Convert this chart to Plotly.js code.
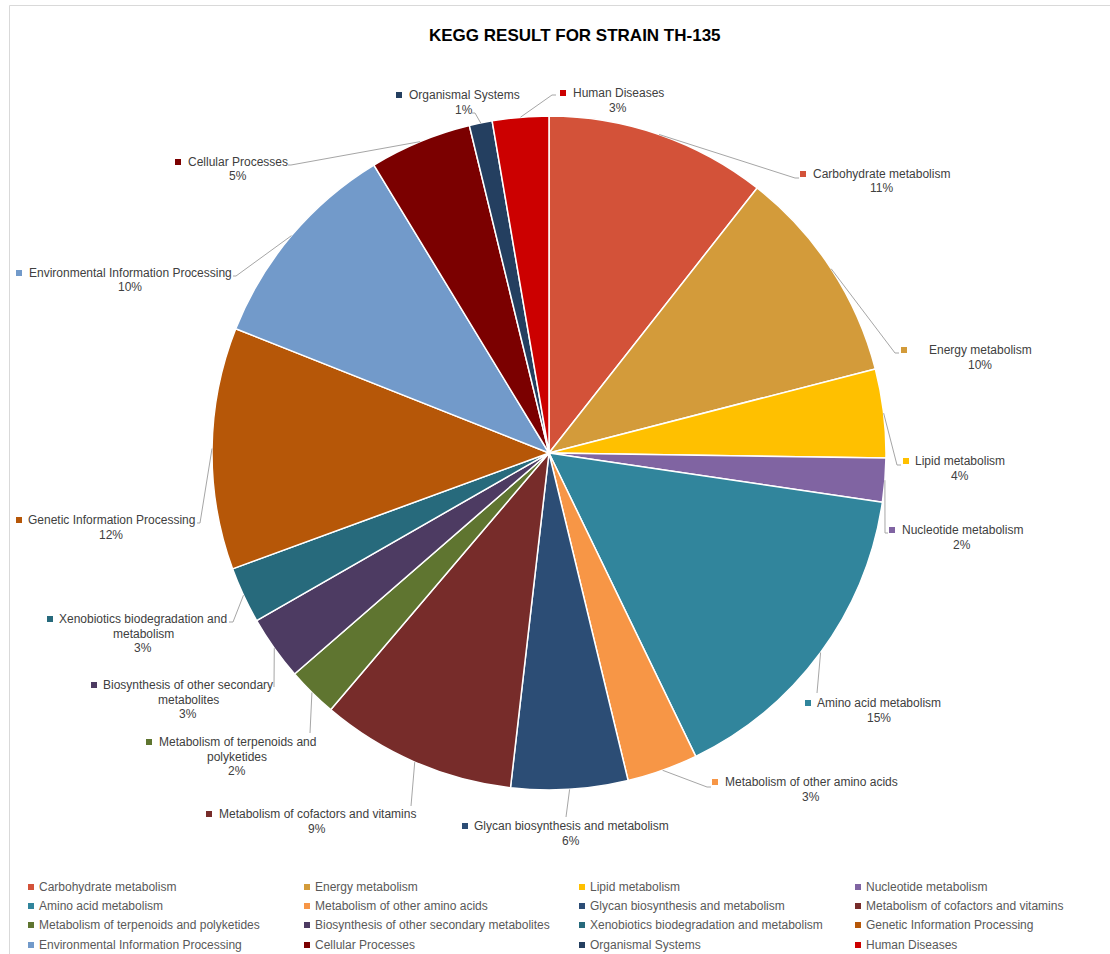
<!DOCTYPE html>
<html>
<head>
<meta charset="utf-8">
<script src="https://cdn.plot.ly/plotly-3.0.1.min.js"></script>
<style>html,body{margin:0;padding:0;background:#fff;}#chart{width:1110px;height:954px;}</style>
</head>
<body>
<div id="chart"></div>
<script>
// ---- data ----
const categories = [
  "Carbohydrate metabolism",
  "Energy metabolism",
  "Lipid metabolism",
  "Nucleotide metabolism",
  "Amino acid metabolism",
  "Metabolism of other amino acids",
  "Glycan biosynthesis and metabolism",
  "Metabolism of cofactors and vitamins",
  "Metabolism of terpenoids and polyketides",
  "Biosynthesis of other secondary metabolites",
  "Xenobiotics biodegradation and metabolism",
  "Genetic Information Processing",
  "Environmental Information Processing",
  "Cellular Processes",
  "Organismal Systems",
  "Human Diseases"
];
const shares = [10.6, 10.4, 4.25, 2.1, 15.5, 3.4, 5.6, 9.4, 2.4, 3.1, 2.7, 11.6, 10.3, 4.9, 1.1, 2.7];
const colors = [
  "#D35239", "#D39B3A", "#FFC000", "#8064A2", "#31859C", "#F79646", "#2C4D75", "#772C2A",
  "#5F7530", "#4D3B62", "#276A7C", "#B65708", "#729ACA", "#7B0000", "#243F60", "#CC0000"
];
const chartTitle = "KEGG RESULT FOR STRAIN TH-135";

// ---- layout helpers (pixel geometry, not data) ----
const W = 1110, H = 954;
const CX = 549, CY = 453, R = 337;
// [text centre x, first line y, bullet x, leader end x, leader end y, tick, wrap]
const labelLayout = [
  [881, 174, 803, 795, 178, 4, false],
  [980, 350, 904, 895, 353, 4, false],
  [960, 461, 906, 897, 465, 4, false],
  [962, 530, 892, 885, 533, 3, false],
  [879, 703, 808, 817, 693, 0, false],
  [811, 782, 715, 707, 787, 4, false],
  [571, 826, 465, 566, 817, 0, false],
  [317, 814, 209, 411, 806, 0, false],
  [237, 742, 149, 310, 733, 0, true],
  [188, 685, 94, 274, 687, 0, true],
  [143, 619, 50, 233, 622, -4, true],
  [111, 520, 19, 200, 523, -3, false],
  [130, 273, 19, 236, 276, -3, false],
  [238, 162, 178, 291, 165, -3, false],
  [464, 95, 399, 475, 113, -3, false],
  [618, 93, 563, 552, 95, 4, false]
];
const legendColX = [37, 313, 588, 864];
const legendRowY = [887, 906, 925, 945];

const px = x => x / W;
const py = y => 1 - y / H;
const FONT = "Liberation Sans, Arial, sans-serif";
const LINE_STEP = 14.5;

const total = shares.reduce((a, b) => a + b, 0);
const annotations = [];
const shapes = [];

// chart border
shapes.push({type: "rect", xref: "paper", yref: "paper", x0: px(9.5), x1: px(1125), y0: py(960), y1: py(5.5),
  line: {color: "#D9D9D9", width: 1}, fillcolor: "rgba(0,0,0,0)", layer: "below"});

// title
annotations.push({xref: "paper", yref: "paper", x: px(575), y: py(35), xanchor: "center", yanchor: "middle",
  showarrow: false, text: "<b>" + chartTitle + "</b>", font: {family: FONT, size: 17, color: "#000000"}});

// data labels with leader lines
let cum = 0;
shares.forEach((v, i) => {
  const mid = (cum + v / 2) / total * 2 * Math.PI;
  cum += v;
  const [tx, ty, bx, ex, ey, tick, wrap] = labelLayout[i];
  const name = categories[i];
  let lines;
  if (wrap) {
    const k = name.lastIndexOf(" ");
    lines = [name.slice(0, k), name.slice(k + 1)];
  } else {
    lines = [name];
  }
  lines.push(Math.round(v / total * 100) + "%");
  lines.forEach((t, k) => {
    annotations.push({xref: "paper", yref: "paper", x: px(tx), y: py(ty + k * LINE_STEP),
      xanchor: "center", yanchor: "middle", align: "center", showarrow: false,
      text: t, font: {family: FONT, size: 12, color: "#404040"}});
  });
  shapes.push({type: "rect", xref: "paper", yref: "paper", x0: px(bx - 3), x1: px(bx + 3), y0: py(ty + 3), y1: py(ty - 3),
    line: {width: 0}, fillcolor: colors[i]});
  const sx = CX + R * Math.sin(mid), sy = CY - R * Math.cos(mid);
  shapes.push({type: "line", xref: "paper", yref: "paper", x0: px(sx), y0: py(sy), x1: px(ex), y1: py(ey),
    line: {color: "#A6A6A6", width: 1}});
  if (tick !== 0) {
    shapes.push({type: "line", xref: "paper", yref: "paper", x0: px(ex), y0: py(ey), x1: px(ex + tick), y1: py(ey),
      line: {color: "#A6A6A6", width: 1}});
  }
});

// legend (4 columns, row-wise order)
categories.forEach((name, i) => {
  const c = i % 4, r = Math.floor(i / 4);
  const x = legendColX[c], y = legendRowY[r];
  shapes.push({type: "rect", xref: "paper", yref: "paper", x0: px(x - 9), x1: px(x - 3), y0: py(y + 3), y1: py(y - 3),
    line: {width: 0}, fillcolor: colors[i]});
  annotations.push({xref: "paper", yref: "paper", x: px(x), y: py(y), xanchor: "left", yanchor: "middle",
    showarrow: false, text: name, font: {family: FONT, size: 12, color: "#595959"}});
});

const trace = {
  type: "pie",
  labels: categories,
  values: shares,
  sort: false,
  direction: "clockwise",
  rotation: 0,
  textinfo: "none",
  hoverinfo: "label+percent",
  marker: {colors: colors, line: {color: "#FFFFFF", width: 1.5}},
  domain: {x: [(CX - R) / W, (CX + R) / W], y: [(H - CY - R) / H, (H - CY + R) / H]},
  showlegend: false
};

const layout = {
  width: W, height: H,
  margin: {l: 0, r: 0, t: 0, b: 0},
  paper_bgcolor: "#FFFFFF",
  showlegend: false,
  annotations: annotations,
  shapes: shapes
};

Plotly.newPlot("chart", [trace], layout, {displayModeBar: false, staticPlot: true});
</script>
</body>
</html>
